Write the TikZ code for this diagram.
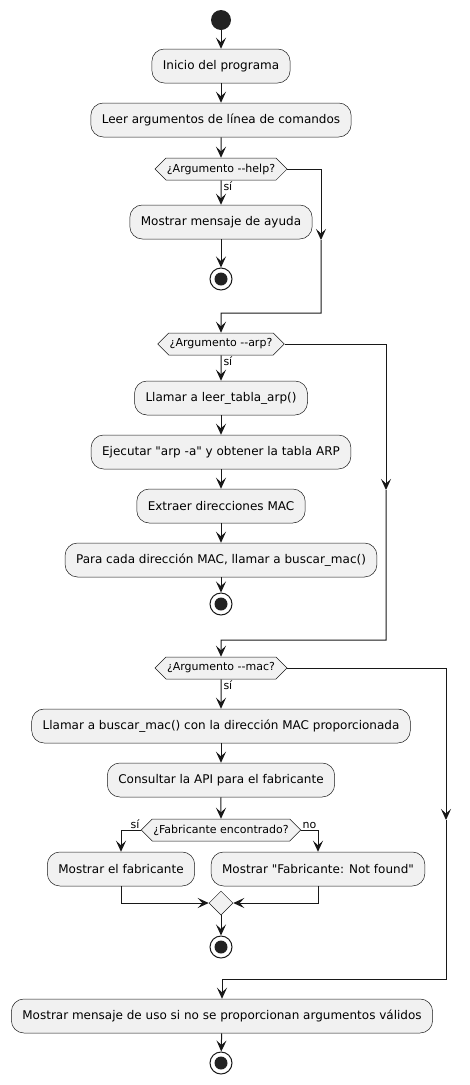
\documentclass[tikz,border=0pt]{standalone}
\usepackage{fontspec}
\setmainfont{DejaVu Sans}[Ligatures=TeXOff]
\usetikzlibrary{arrows.meta, shapes.geometric, shapes.symbols}

\definecolor{boxfill}{HTML}{F1F1F1}
\definecolor{edgecol}{HTML}{181818}
\definecolor{dotcol}{HTML}{222222}

\tikzset{
  actionbox/.style={draw=edgecol, line width=0.5pt, fill=boxfill, rounded corners=12.5pt,
    minimum height=34pt, inner xsep=11pt, font=\fontsize{12}{14}\selectfont},
  choicebox/.style={signal, signal to=west and east, signal pointer angle=90,
    draw=edgecol, line width=0.5pt, fill=boxfill, minimum height=22pt,
    inner xsep=1pt, inner ysep=0pt, font=\fontsize{11}{13}\selectfont},
  mergebox/.style={diamond, draw=edgecol, line width=0.5pt, fill=boxfill,
    minimum size=24pt, inner sep=0pt},
  startdot/.style={circle, fill=dotcol, minimum size=20pt, inner sep=0pt},
  stopdot/.style={circle, draw=edgecol, line width=1pt, fill=white, minimum size=22pt,
    inner sep=0pt, path picture={\fill[dotcol] (path picture bounding box.center) circle (6.5pt);}},
  flow/.style={draw=edgecol, line width=1pt, -{Stealth[length=11pt, width=10pt, inset=4.5pt]}},
  guard/.style={font=\fontsize{11}{13}\selectfont, inner sep=1pt},
}

\begin{document}
\begin{tikzpicture}[x=1pt, y=-1pt]
  \useasboundingbox (0,0) rectangle (470,1085);

  % main column
  \node[startdot] (start) at (221,20) {};
  \node[actionbox] (inicio) at (221,66) {Inicio del programa};
  \node[actionbox] (leer) at (221,120) {Leer argumentos de línea de comandos};

  % --help
  \node[choicebox] (help) at (221,169) {¿Argumento --help?};
  \node[actionbox] (ayuda) at (221,222) {Mostrar mensaje de ayuda};
  \node[stopdot] (stopayuda) at (221,279) {};
  \coordinate (h1) at (321,240);
  \coordinate (h2) at (321,313);

  % --arp
  \node[choicebox] (arp) at (221,344) {¿Argumento --arp?};
  \node[actionbox] (leertabla) at (221,398) {Llamar a leer\_tabla\_arp()};
  \node[actionbox] (ejecutar) at (221,452) {Ejecutar "arp -a" y obtener la tabla ARP};
  \node[actionbox] (extraer) at (221,506) {Extraer direcciones MAC};
  \node[actionbox] (paracada) at (221,560) {Para cada dirección MAC, llamar a buscar\_mac()};
  \node[stopdot] (stoparp) at (221,604) {};
  \coordinate (a1) at (386,490);
  \coordinate (a2) at (386,640);

  % --mac
  \node[choicebox] (mac) at (221,668) {¿Argumento --mac?};
  \node[actionbox] (llamarmac) at (221,726) {Llamar a buscar\_mac() con la dirección MAC proporcionada};
  \node[actionbox] (consultar) at (221,780) {Consultar la API para el fabricante};
  \node[choicebox] (fab) at (221,830) {¿Fabricante encontrado?};
  \node[actionbox] (mostrarfab) at (121,869) {Mostrar el fabricante};
  \node[actionbox] (notfound) at (318,869) {Mostrar "Fabricante: Not found"};
  \node[mergebox] (mg) at (221,903) {};
  \node[stopdot] (stopmac) at (221,947) {};
  \coordinate (m1) at (446,820);
  \coordinate (m2) at (446,979);

  % fallback
  \node[actionbox] (final) at (222,1016) {Mostrar mensaje de uso si no se proporcionan argumentos válidos};
  \node[stopdot] (stopfin) at (221,1063) {};

  % connectors
  \draw[flow] (start) -- (inicio);
  \draw[flow] (inicio) -- (leer);
  \draw[flow] (leer) -- (help);
  \draw[flow] (help) -- node[guard, pos=0, anchor=north west, xshift=1pt] {sí} (ayuda);
  \draw[flow] (ayuda) -- (stopayuda);
  \draw[flow] (help.east) -| (h1);
  \draw[flow] (h1) -- (h2) -- (h2 -| arp) -- (arp);

  \draw[flow] (arp) -- node[guard, pos=0, anchor=north west, xshift=1pt] {sí} (leertabla);
  \draw[flow] (leertabla) -- (ejecutar);
  \draw[flow] (ejecutar) -- (extraer);
  \draw[flow] (extraer) -- (paracada);
  \draw[flow] (paracada) -- (stoparp);
  \draw[flow] (arp.east) -| (a1);
  \draw[flow] (a1) -- (a2) -- (a2 -| mac) -- (mac);

  \draw[flow] (mac) -- node[guard, pos=0, anchor=north west, xshift=1pt] {sí} (llamarmac);
  \draw[flow] (llamarmac) -- (consultar);
  \draw[flow] (consultar) -- (fab);
  \draw[flow] (fab.west) -| node[guard, pos=0, anchor=south east] {sí} (mostrarfab);
  \draw[flow] (fab.east) -| node[guard, pos=0, anchor=south west] {no} (notfound);
  \draw[flow] (mostrarfab.south) |- (mg);
  \draw[flow] (notfound.south) |- (mg);
  \draw[flow] (mg) -- (stopmac);
  \draw[flow] (mac.east) -| (m1);
  \draw[flow] (m1) -- (m2) -- (m2 -| final) -- (final);
  \draw[flow] (final) -- (stopfin);
\end{tikzpicture}
\end{document}
